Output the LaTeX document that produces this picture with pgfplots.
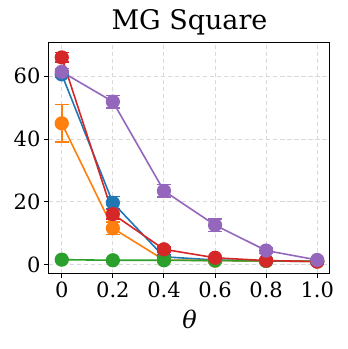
\documentclass[border=0pt]{standalone}
\usepackage{fontspec}
\setmainfont{DejaVu Serif}
\usepackage{pgfplots}
\pgfplotsset{compat=1.18}
\usetikzlibrary{calc}

\definecolor{tblue}{HTML}{1F77B4}
\definecolor{torange}{HTML}{FF7F0E}
\definecolor{tgreen}{HTML}{2CA02C}
\definecolor{tred}{HTML}{D62728}
\definecolor{tpurple}{HTML}{9467BD}

\pgfplotsset{
  ser/.style={color=#1, line width=1.6pt, mark=*, mark size=6.3pt,
    mark options={solid, fill=#1},
    error bars/.cd, y dir=both, y explicit,
    error bar style={line width=1.6pt, color=#1},
    error mark options={rotate=90, mark size=7pt, line width=1.6pt, color=#1}},
}

\begin{document}
\begin{tikzpicture}
\begin{axis}[
    name=ax,
    scale only axis,
    width=281pt, height=231pt,
    xmin=-0.05, xmax=1.05,
    ymin=-2.65, ymax=70.9,
    xtick={0,0.2,0.4,0.6,0.8,1.0},
    xticklabels={0,0.2,0.4,0.6,0.8,1.0},
    ytick={0,20,40,60},
    /pgf/number format/assume math mode=true,
    tick label style={font=\fontsize{21}{25}\selectfont},
    tick align=outside,
    tick pos=left,
    major tick length=5pt,
    tick style={black, line width=1pt},
    axis line style={line width=1pt},
    grid=major,
    grid style={dash pattern=on 4.5pt off 2.5pt, gray!30, line width=1pt},
    title={MG Square},
    title style={font=\fontsize{27}{31}\selectfont, yshift=-3pt},
    xlabel={\textit{θ}},
    xlabel style={font=\fontsize{24}{28}\selectfont, yshift=-6pt},
    clip=false,
]
\addplot+[ser=tblue] coordinates {
  (0,60.6) +- (0,1.0)
  (0.2,19.7) +- (0,2.0)
  (0.4,2.5) +- (0,0.5)
  (0.6,1.5) +- (0,0.3)
  (0.8,1.2) +- (0,0.2)
  (1.0,1.0) +- (0,0.2)
};
\addplot+[ser=torange] coordinates {
  (0,45.0) +- (0,6.0)
  (0.2,11.6) +- (0,2.0)
  (0.4,1.5) +- (0,0.3)
  (0.6,1.3) +- (0,0.2)
  (0.8,1.2) +- (0,0.2)
  (1.0,1.0) +- (0,0.2)
};
\addplot+[ser=tgreen] coordinates {
  (0,1.6) +- (0,0.2)
  (0.2,1.4) +- (0,0.2)
  (0.4,1.4) +- (0,0.2)
  (0.6,1.3) +- (0,0.2)
  (0.8,1.2) +- (0,0.2)
  (1.0,1.1) +- (0,0.2)
};
\addplot+[ser=tred] coordinates {
  (0,66.0) +- (0,1.5)
  (0.2,16.1) +- (0,1.5)
  (0.4,4.9) +- (0,0.8)
  (0.6,2.2) +- (0,0.4)
  (0.8,1.3) +- (0,0.3)
  (1.0,1.0) +- (0,0.2)
};
\addplot+[ser=tpurple] coordinates {
  (0,61.4) +- (0,1.0)
  (0.2,51.9) +- (0,2.0)
  (0.4,23.5) +- (0,2.0)
  (0.6,12.6) +- (0,2.0)
  (0.8,4.5) +- (0,1.0)
  (1.0,1.5) +- (0,0.4)
};
\end{axis}
\pgfresetboundingbox
\path ($(ax.south west)+(-49pt,-76pt)$) rectangle ($(ax.north east)+(18pt,42pt)$);
\end{tikzpicture}
\end{document}
